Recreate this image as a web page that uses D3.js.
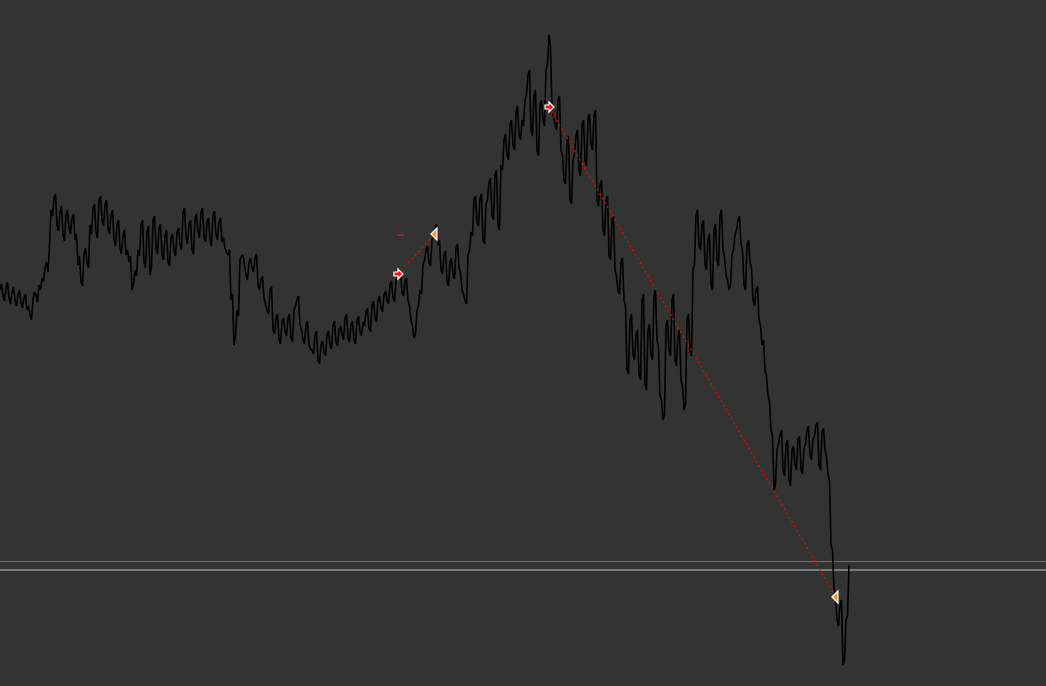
<!DOCTYPE html>
<html>
<head>
<meta charset="utf-8">
<title>Price chart</title>
<script src="https://d3js.org/d3.v7.min.js"></script>
<style>
  html, body { margin: 0; padding: 0; background: #333333; overflow: hidden; }
  svg { display: block; }
</style>
</head>
<body>
<div id="chart"></div>
<script>
// close per bar (about 1.5 px per bar)
var price = [
  396, 402, 390, 385, 398, 404, 388, 382, 394, 399, 386, 380, 391, 396, 383, 378, 388, 392, 376, 380, 371,
  366, 386, 394, 391, 384, 401, 396, 408, 404, 418, 424, 414,
  440, 476, 470, 488, 492, 461,
  455, 474, 480, 451, 445, 471, 476, 458, 452, 468, 472, 446,
  452, 421, 430, 404, 400, 431, 438, 424,
  418, 461, 452, 478, 482, 454, 448, 486, 490, 466, 460, 481, 486, 458,
  452, 471, 476, 446, 440, 461, 466, 438, 432, 451, 456, 431, 436, 424,
  430, 396, 402, 416, 410, 436,
  430, 461, 466, 424, 418, 454, 460, 411, 420, 466, 470, 438, 432, 458,
  462, 431, 426, 451, 456, 424, 420, 448, 452, 436, 430, 454, 458, 441,
  436, 474, 478, 448, 442, 461, 466, 436, 432, 468, 472, 454, 448, 474,
  478, 448, 444, 464, 468, 446, 440, 471, 475, 451, 446, 464, 468, 444,
  448, 438, 434, 431, 436, 386, 392, 341,
  350, 376, 370, 426, 430, 431, 420, 411, 406, 424, 428, 418, 414, 428, 432, 401,
  396, 406, 410, 388, 382, 376, 372, 396, 400, 356, 352, 368, 372, 346,
  342, 364, 368, 356, 350, 368, 372, 348, 344, 376, 380, 386, 390, 361,
  356, 346, 342, 361, 365, 341, 337, 336, 332, 351, 355, 326, 322, 341,
  345, 334, 330, 351, 355, 341, 337, 361, 365, 344, 340, 356, 360, 351,
  346, 368, 372, 348, 344, 361, 365, 346, 342, 366, 370, 354, 350, 364,
  360, 374, 378, 358, 354, 381, 385, 368, 364, 386, 390, 378, 374, 391,
  395, 386, 382, 401, 405, 388, 384, 406, 410, 411, 416, 394, 390, 404,
  408, 386, 380, 366, 360, 348, 352, 376, 380, 396,
  392, 421, 426, 436, 440, 424, 420, 446, 450, 458, 462, 441,
  446, 416, 412, 431, 435, 404, 400, 424, 428, 411, 407, 438, 442, 418,
  414, 396, 392, 386, 382, 431, 435, 454, 450, 486, 490, 464, 460, 488,
  492, 446, 442, 481, 486, 504, 508, 471, 466, 511, 516, 461, 456, 521,
  516, 546, 552, 531, 526, 561, 566, 541, 536, 574, 580, 551, 546, 566,
  560, 586, 592, 611, 616, 556, 550, 591, 596, 536, 530, 581, 586, 566,
  560, 616, 622, 651, 640, 576,
  570, 561, 556, 586, 590, 536, 530, 506, 502, 546, 550, 486, 482, 526,
  532, 551, 556, 516, 510, 561, 566, 526, 520, 568, 572, 541, 536, 571,
  576, 486, 480, 501, 506, 456, 450, 486, 490, 431, 426, 466, 470, 416,
  410, 396, 392, 424, 428, 386, 380, 316, 312, 366, 372, 331, 326, 351,
  356, 311, 306, 386, 392, 301, 296, 356, 362, 331, 326, 391, 396, 346,
  340, 291, 286, 266, 272, 361, 366, 336, 330, 386, 392, 326, 320, 351,
  356, 306, 300, 276, 282, 366, 372, 336, 330, 416, 422, 471, 476, 441,
  436, 461, 466, 421, 416, 446, 452, 401, 396, 456, 462, 426, 420, 471,
  476, 436, 430, 411, 406, 396, 400, 431, 436, 451, 456, 466, 470, 441,
  436, 401, 396, 441, 446, 424, 418, 386, 380, 396, 400, 366, 360, 341,
  346, 316, 310, 291, 285, 256, 250, 196, 202, 236, 242, 251, 256, 216,
  210, 241, 246, 206, 200, 236, 240, 221, 216, 246, 250, 216, 212, 238,
  242, 256, 260, 231, 226, 246, 250, 261, 264, 221, 216, 254, 258, 236,
  230, 211, 205, 141, 136, 96, 92, 66, 60, 81, 86, 21, 26, 66,
  70, 121
];

// trades: entry / exit bar and price
var entryBar = [265.3, 366];
var entryPrice = [412, 579];
var exitBar = [290, 557.3];
var exitPrice = [452, 89];

// horizontal levels
var levelUpper = 124.5;
var levelLower = 116;

// short stop mark near first trade
var stopBars = [264.7, 269.3];
var stopPrice = 451;

var width = 1046, height = 686;

var svg = d3.select("#chart").append("svg")
    .attr("width", width)
    .attr("height", height);

svg.append("rect")
    .attr("width", width)
    .attr("height", height)
    .attr("fill", "#333333");

var x = d3.scaleLinear().domain([0, 566]).range([0, 849]);
var y = d3.scaleLinear().domain([0, 686]).range([686, 0]);

// level lines
svg.append("line")
    .attr("x1", 0).attr("x2", width)
    .attr("y1", y(levelUpper)).attr("y2", y(levelUpper))
    .attr("stroke", "#ff3c00")
    .attr("stroke-width", 1);

svg.append("line")
    .attr("x1", 0).attr("x2", width)
    .attr("y1", y(levelLower)).attr("y2", y(levelLower))
    .attr("stroke", "#c8c8c8")
    .attr("stroke-width", 1);

// price line
var line = d3.line()
    .x(function(d, i) { return x(i); })
    .y(function(d) { return y(d); });

svg.append("path")
    .datum(price)
    .attr("d", line)
    .attr("fill", "none")
    .attr("stroke", "#000000")
    .attr("stroke-width", 1.6)
    .attr("stroke-linejoin", "bevel");

// stop mark
svg.append("line")
    .attr("x1", x(stopBars[0])).attr("x2", x(stopBars[1]))
    .attr("y1", y(stopPrice)).attr("y2", y(stopPrice))
    .attr("stroke", "#ff2020")
    .attr("stroke-width", 1);

// trade lines
entryBar.forEach(function(b, i) {
    svg.append("line")
        .attr("x1", x(b)).attr("y1", y(entryPrice[i]))
        .attr("x2", x(exitBar[i])).attr("y2", y(exitPrice[i]))
        .attr("stroke", "#ff0000")
        .attr("stroke-width", 1.2)
        .attr("stroke-dasharray", "2,3");
});

// entry markers (red arrow heads)
entryBar.forEach(function(b, i) {
    var cx = x(b), cy = y(entryPrice[i]);
    svg.append("path")
        .attr("d", "M" + (cx - 4) + "," + (cy - 2) + "L" + cx + "," + (cy - 2) + "L" + cx + "," + (cy - 5) +
             "L" + (cx + 5) + "," + cy + "L" + cx + "," + (cy + 5) + "L" + cx + "," + (cy + 2) +
             "L" + (cx - 4) + "," + (cy + 2) + "Z")
        .attr("fill", "#ff1010")
        .attr("stroke", "#ffffff")
        .attr("stroke-width", 1.2);
});

// exit markers (left triangles)
exitBar.forEach(function(b, i) {
    var cx = x(b), cy = y(exitPrice[i]);
    svg.append("path")
        .attr("d", "M" + (cx - 4) + "," + cy + "L" + (cx + 2) + "," + (cy - 6) + "L" + (cx + 2) + "," + (cy + 6) + "Z")
        .attr("fill", "#e0a030")
        .attr("stroke", "#ffffff")
        .attr("stroke-width", 1.2);
});
</script>
</body>
</html>
